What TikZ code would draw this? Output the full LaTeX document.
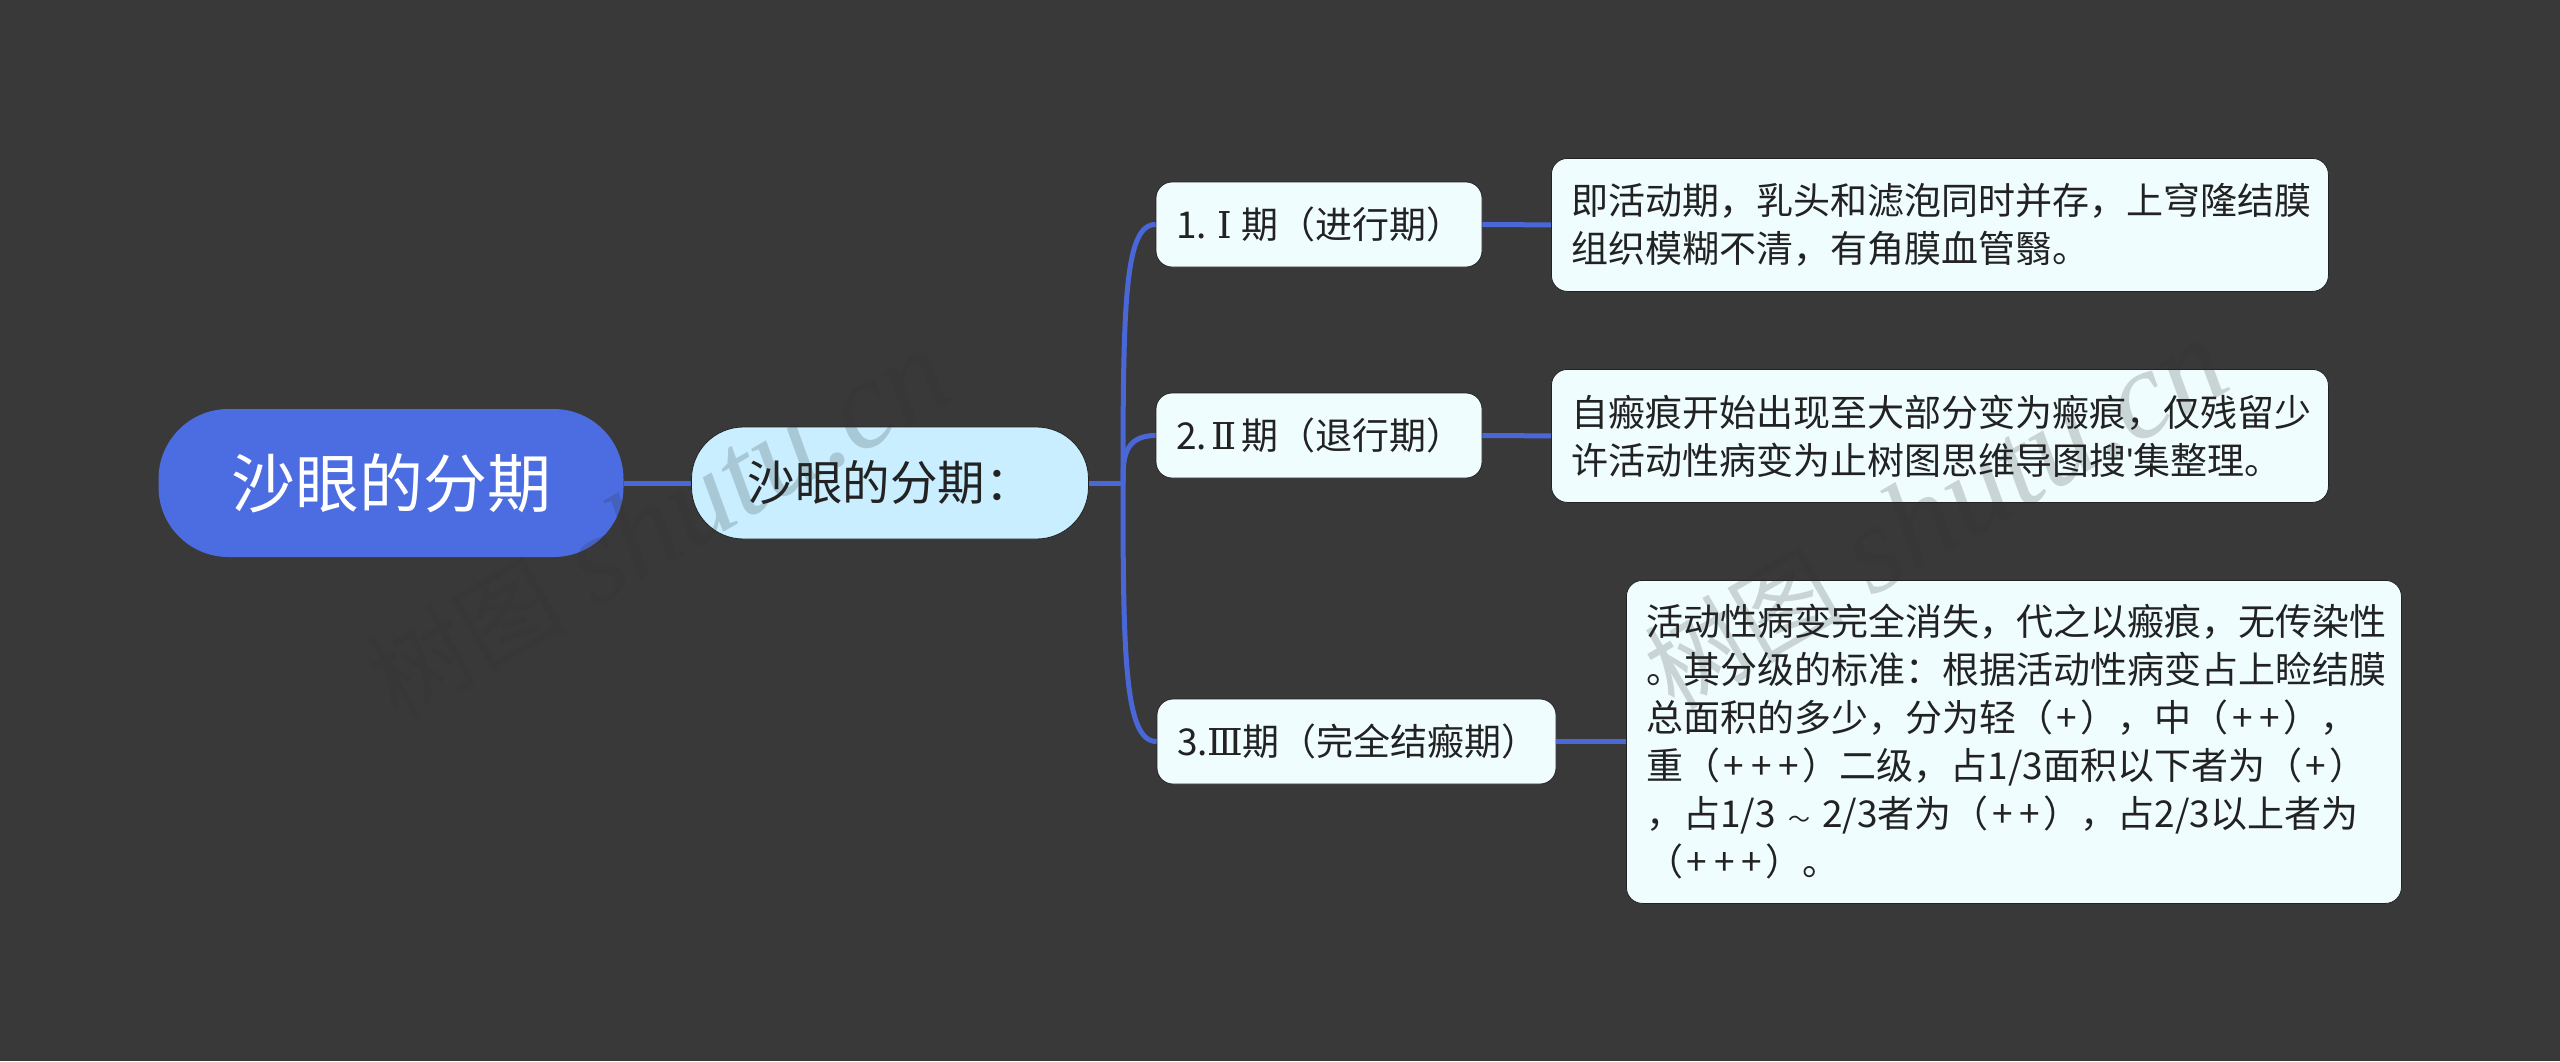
\documentclass[tikz,border=0pt]{standalone}
\usepackage{fontspec}
\setmainfont{Noto Sans CJK SC}
\newfontfamily\markfont{Liberation Serif}
\newfontfamily\romanfont{DejaVu Serif}
\newfontfamily\apofont[Ligatures=NoCommon]{Liberation Sans}
\definecolor{bgdark}{HTML}{3A393A}
\definecolor{rootblue}{HTML}{4C6DE2}
\definecolor{subblue}{HTML}{C8EEFF}
\definecolor{boxwhite}{HTML}{F0FDFF}
\definecolor{linkblue}{HTML}{4A67D8}
\definecolor{inkdark}{HTML}{222222}
\definecolor{markgray}{HTML}{303030}
\newcommand{\rnum}[1]{\makebox[.95em]{\romanfont #1}}
\newcommand{\pl}{\makebox[.74em]{+}}
\newcommand{\wave}{\makebox[1.25em]{\fontsize{22}{22}\selectfont ～}}
\newcommand{\wmtext}{{\fontsize{100}{120}\selectfont 树图} {\markfont\itshape shutu.cn}}
\tikzset{
  rootnode/.style={fill=rootblue, text=white, rounded corners=70pt, inner sep=0pt, font=\fontsize{64}{76}\selectfont},
  subnode/.style={fill=subblue, draw=inkdark, line width=0.8pt, text=inkdark, rounded corners=52pt, inner sep=0pt, font=\fontsize{47.5}{60}\selectfont},
  stagenode/.style={fill=boxwhite, draw=inkdark, line width=0.8pt, text=inkdark, rounded corners=16pt, inner xsep=20pt, inner ysep=0pt, align=left, font=\fontsize{37}{48}\selectfont},
  descnode/.style={stagenode, anchor=north west},
  link/.style={draw=linkblue, line width=5pt},
  wmark/.style={text=markgray, text opacity=0.2, rotate=30, font=\fontsize{125}{140}\selectfont}
}
\begin{document}
\begin{tikzpicture}[x=1pt,y=-1pt]
\fill[bgdark] (0,0) rectangle (2560,1061);
\useasboundingbox (0,0) rectangle (2560,1061);
% the boxes
\coordinate (fork) at (1123,483);
\node[rootnode, minimum width=465pt, minimum height=148pt] (root) at (391,483) {沙眼的分期};
\node[subnode, minimum width=397pt, minimum height=112pt] (sub) at (890,483) {沙眼的分期：\hspace{3pt}};
\node[stagenode, text width=286pt, minimum height=85pt] (one) at (1319,224.5) {1.\rnum{Ⅰ}期（进行期）};
\node[stagenode, text width=286pt, minimum height=85pt] (two) at (1319,435.5) {2.\rnum{Ⅱ}期（退行期）};
\node[stagenode, text width=359pt, minimum height=85pt] (three) at (1356.5,741.5) {3.\rnum{Ⅲ}期（完全结瘢期）};
\node[descnode, text width=737pt, minimum height=133pt] (oned) at (1551,158) {即活动期，乳头和滤泡同时并存，上穹隆结膜\\组织模糊不清，有角膜血管翳。};
\node[descnode, text width=737pt, minimum height=133pt] (twod) at (1551,369) {自瘢痕开始出现至大部分变为瘢痕，仅残留少\\许活动性病变为止树图思维导图搜{\apofont\symbol{39}}集整理。};
\node[descnode, text width=735pt, minimum height=323pt] (threed) at (1626,580) {活动性病变完全消失，代之以瘢痕，无传染性\\。其分级的标准：根据活动性病变占上睑结膜\\总面积的多少，分为轻（\pl），中（\pl\pl），\\重（\pl\pl\pl）二级，占1/3面积以下者为（\pl）\\，占1/3\wave2/3者为（\pl\pl），占2/3以上者为\\（\pl\pl\pl）。};
% the links
\draw[link] (root.east) -- (sub.west);
\draw[link] (sub.east) -- (fork);
\draw[link] (fork) .. controls (1123,300) and (1125,224.5) .. (one.west);
\draw[link] (fork) .. controls (1123,460) and (1123,435.5) .. (two.west);
\draw[link] (fork) .. controls (1123,660) and (1125,741.5) .. (three.west);
\draw[link] (one.east) -- (oned.west);
\draw[link] (two.east) -- (twod.west);
\draw[link] (three.east) -- (threed.west |- three.east);
% watermarks
\node[wmark] (marka) at (658,525) {\wmtext};
\node[wmark] (markb) at (1935,515) {\wmtext};
\end{tikzpicture}
\end{document}
